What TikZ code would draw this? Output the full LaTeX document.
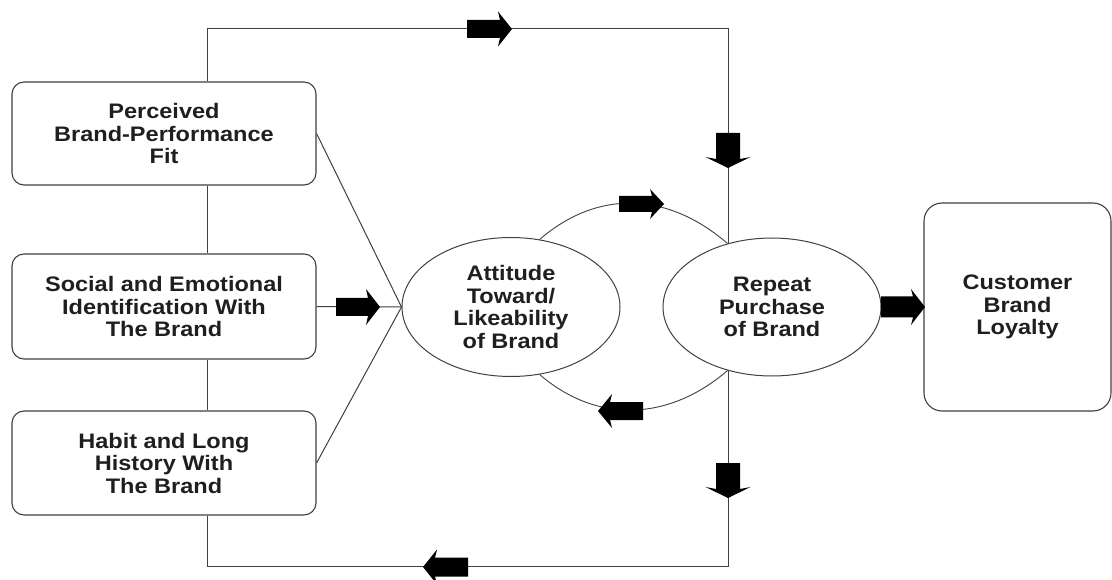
\documentclass[tikz,border=0pt]{standalone}
\usepackage{fontspec}
\setmainfont{Liberation Sans}[FakeStretch=1.12]
\usetikzlibrary{shapes.geometric}
% block arrow: #1 tip, #2 rotation, #3 total length, #4 head length, #5 half body, #6 half head
\newcommand{\fatarr}[6]{%
  \fill[black, shift={#1}, rotate=#2] (-#3,-#5) -- (-#4,-#5) -- ({-#4-2},-#6) -- (0,0) -- ({-#4-2},#6) -- (-#4,#5) -- (-#3,#5) -- cycle;}
\begin{document}
\begin{tikzpicture}[x=1pt, y=-1pt,
  lbl/.style={font=\bfseries\fontsize{21}{22.5}\selectfont, text=black!88, align=center, inner sep=0pt},
  rbox/.style={lbl, draw=black!75, line width=1.1pt, rounded corners=12pt},
  oval/.style={lbl, ellipse, draw=black!75, line width=1pt},
  conn/.style={draw=black!75, line width=1pt}]
\useasboundingbox[fill=white] (0,0) rectangle (1112,580);

\node[rbox, minimum width=304pt, minimum height=103pt] (b1) at (164,133.5) {Perceived\\Brand-Performance\\Fit};
\node[rbox, minimum width=304pt, minimum height=105pt] (b2) at (164,306.5) {Social and Emotional\\Identification With\\The Brand};
\node[rbox, minimum width=304pt, minimum height=104pt] (b3) at (164,463) {Habit and Long\\History With\\The Brand};
\node[oval, minimum width=218pt, minimum height=139pt] (att) at (511,307) {Attitude\\Toward/\\Likeability\\of Brand};
\node[oval, minimum width=218pt, minimum height=138pt] (rep) at (772,307) {Repeat\\Purchase\\of Brand};
\node[rbox, rounded corners=18pt, minimum width=187pt, minimum height=208pt] (cbl) at (1017.5,307) {\raisebox{0pt}{Customer}\\Brand\\Loyalty};

\coordinate (tl) at (207,29);
\coordinate (tr) at (728,29);
\coordinate (bl) at (207,566);
\coordinate (br) at (728,566);

% outer loop
\draw[conn] (b1.north -| tl) -- (tl) -- (tr) -- (tr |- rep.125);
\draw[conn] (b1.south -| tl) -- (b2.north -| tl);
\draw[conn] (b2.south -| tl) -- (b3.north -| tl);
\draw[conn] (b3.south -| bl) -- (bl) -- (br) -- (br |- rep.-125);

% converging lines
\draw[conn] (b1.east) -- (att.west);
\draw[conn] (b2.east) -- (att.west);
\draw[conn] (b3.east) -- (att.west);

% arcs between ellipses
\draw[conn, line width=0.9pt] (att.67) .. controls +(59,-51) and +(-59,-51) .. (rep.125);
\draw[conn, line width=0.9pt] (att.-67) .. controls +(58,50) and +(-58,50) .. (rep.-125);

% block arrows
\fatarr{(512,29)}{0}{45}{12}{9}{17.5}
\fatarr{(728,168)}{-90}{35}{9}{12}{22.5}
\fatarr{(728,498)}{-90}{35}{9}{12}{22.5}
\fatarr{(423,567)}{180}{45}{12}{9.5}{17.5}
\fatarr{(380,307)}{0}{44}{12}{9}{18}
\fatarr{(925,307)}{0}{44}{12}{10.5}{18}
\fatarr{(664,204)}{0}{45}{12}{8}{15}
\fatarr{(598,411)}{180}{45}{12}{9}{17}
\end{tikzpicture}
\end{document}
